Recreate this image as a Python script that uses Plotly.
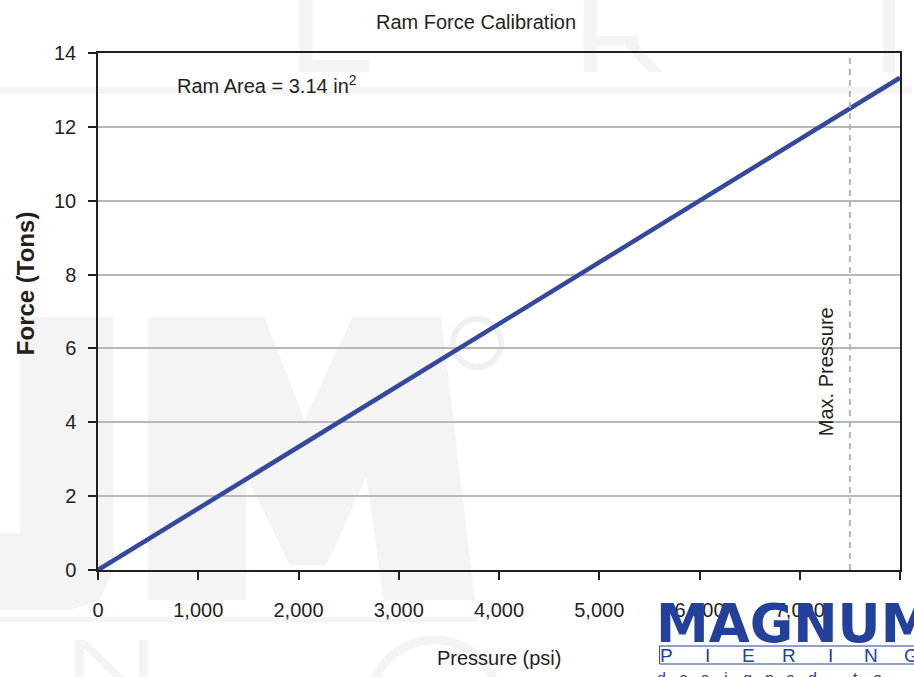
import plotly.graph_objects as go

# ---- data ----
pressure_psi = [0, 1000, 2000, 3000, 4000, 5000, 6000, 7000, 8000]
force_tons = [0, 1.67, 3.33, 5.0, 6.67, 8.33, 10.0, 11.67, 13.33]
max_pressure_psi = 7500
x_tick_vals = [0, 1000, 2000, 3000, 4000, 5000, 6000, 7000, 8000]
y_tick_vals = [0, 2, 4, 6, 8, 10, 12, 14]
title_text = "Ram Force Calibration"
ram_area_text = "Ram Area = 3.14 in<sup>2</sup>"
x_title = "Pressure (psi)"
y_title = "Force (Tons)"
max_label = "Max. Pressure"

# ---- layout geometry (pixels) ----
W, H = 914, 677
L, R, T, B = 98, 12, 53, 107
PW, PH = W - L - R, H - T - B

def px(x):
    return (x - L) / PW

def py(y):
    return (H - B - y) / PH

SANS = "Liberation Sans, Arial, sans-serif"
INK = "#231f20"
BLUE = "#23409a"
WM = "#f4f4f4"

fig = go.Figure()
fig.add_trace(go.Scatter(
    x=pressure_psi, y=force_tons, mode="lines",
    line=dict(color="#34499c", width=4.5), hoverinfo="skip", showlegend=False,
))

fig.add_vline(x=max_pressure_psi, line=dict(color="#b4b4b4", width=2, dash="6px,5px"), layer="above")

# ---- faint watermark (background decoration) ----
def poly(pts):
    s = "M " + " L ".join(f"{px(a):.5f},{py(b):.5f}" for a, b in pts) + " Z"
    return dict(type="path", xref="paper", yref="paper", path=s,
                fillcolor=WM, line=dict(width=0), layer="below")

def rect(x0, y0, x1, y1):
    return poly([(x0, y0), (x1, y0), (x1, y1), (x0, y1)])

shapes = []
# top row thin letters
shapes += [rect(76, -10, 88, 72)]
shapes += [rect(300, -10, 313, 72), rect(300, 60, 370, 72), rect(300, -10, 362, -2)]
shapes += [rect(585, -10, 598, 72), rect(585, 36, 640, 46),
           poly([(626, 46), (640, 46), (664, 72), (650, 72)])]
shapes += [rect(885, -10, 897, 72)]
# horizontal band
shapes += [rect(0, 87, 914, 94)]
# big U (right part)
shapes += [poly([(-10, 533), (20, 533), (20, 317), (113, 317), (113, 570),
                 (100, 600), (70, 610), (-10, 610)])]
# big M
shapes += [poly([(148, 317), (265, 317), (305, 420), (353, 317), (442, 317),
                 (476, 600), (384, 600), (367, 477), (327, 565), (290, 565),
                 (247, 477), (247, 600), (148, 600)])]
# registered mark ring
shapes += [dict(type="circle", xref="paper", yref="paper",
                x0=px(454), x1=px(502), y0=py(319), y1=py(367),
                line=dict(color="#f0f0f0", width=6), layer="below")]
# bottom band and letters
shapes += [rect(0, 617, 480, 622)]
shapes += [rect(75, 640, 84, 700), rect(139, 640, 148, 700),
           poly([(75, 640), (86, 640), (148, 700), (137, 700)])]
shapes += [dict(type="circle", xref="paper", yref="paper",
                x0=px(370), x1=px(500), y0=py(640), y1=py(770),
                line=dict(color=WM, width=9), layer="below")]

# PIERING box of logo
shapes += [dict(type="rect", xref="paper", yref="paper",
                x0=px(661), x1=px(930), y0=py(646), y1=py(664),
                line=dict(color=BLUE, width=1), fillcolor="rgba(0,0,0,0)", layer="above")]

def note(text, x, y, size, family=SANS, color=INK, angle=0, xanchor="center"):
    return dict(text=text, x=px(x), y=py(y), xref="paper", yref="paper",
                xanchor=xanchor, yanchor="middle", textangle=angle, showarrow=False,
                font=dict(family=family, size=size, color=color))

ann = []
ann.append(note(title_text, 477, 22, 20))
ann.append(note(ram_area_text, 175, 84, 20, xanchor="left"))
ann.append(note(x_title, 500, 658, 20))
ann.append(note(f"<b>{y_title}</b>", 25, 283, 24, angle=-90))
ann.append(note(max_label, 828, 372, 20, angle=-90))
# logo text
ann.append(note("<b>MAGNUM</b>", 655, 623, 53,
                family="DejaVu Sans, Liberation Sans", color=BLUE, xanchor="left"))
for i, ch in enumerate("PIERING"):
    ann.append(note(ch, 668 + i * 41, 655, 19, color=BLUE))
for i, ch in enumerate("designed to support"):
    if ch == " ":
        continue
    ann.append(note(ch, 663 + i * 21.6, 678, 16, color=BLUE))

fig.update_layout(
    width=W, height=H, margin=dict(l=L, r=R, t=T, b=B),
    paper_bgcolor="white", plot_bgcolor="rgba(0,0,0,0)",
    shapes=shapes, annotations=ann, showlegend=False,
    xaxis=dict(range=[0, 8000], tickvals=x_tick_vals, tickformat=",d",
               showgrid=False, zeroline=False, showline=True, linecolor=INK, linewidth=1.5,
               mirror=True, ticks="outside", ticklen=8, tickwidth=1.5, tickcolor=INK,
               ticklabelstandoff=13,
               tickfont=dict(family=SANS, size=20, color=INK)),
    yaxis=dict(range=[0, 14], tickvals=y_tick_vals,
               showgrid=True, gridcolor="#b8b8b8", gridwidth=1.5, zeroline=False,
               showline=True, linecolor=INK, linewidth=1.5, mirror=True,
               ticks="outside", ticklen=8, tickwidth=1.5, tickcolor=INK,
               ticklabelstandoff=8,
               tickfont=dict(family=SANS, size=20, color=INK)),
)

fig.write_html("out.html", config={"displayModeBar": False},
               post_script="document.body.style.margin='0px';")
